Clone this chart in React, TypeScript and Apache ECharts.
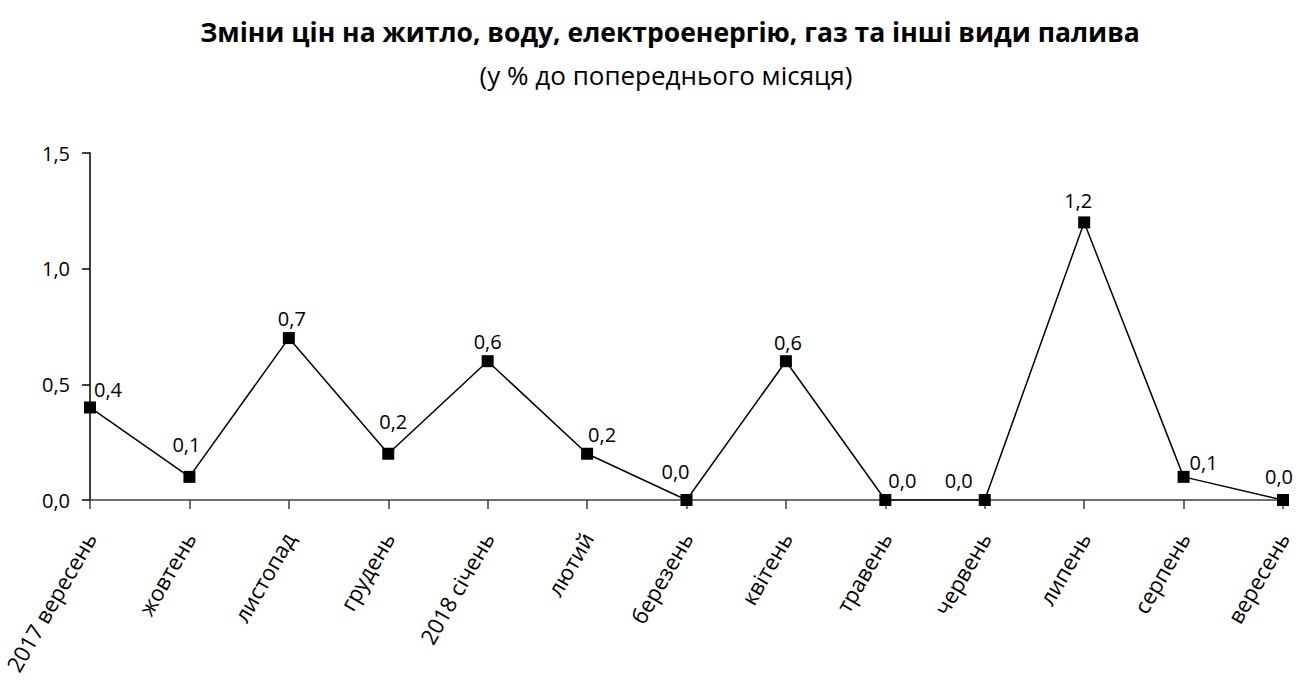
import React, { useEffect, useRef } from "react";
import * as echarts from "echarts";

const titleText = "Зміни цін на житло, воду, електроенергію, газ та інші види палива";
const subtitleText = "(у % до попереднього місяця)";
const categories = [
  "2017 вересень", "жовтень", "листопад", "грудень", "2018 січень", "лютий",
  "березень", "квітень", "травень", "червень", "липень", "серпень", "вересень",
];
const values = [0.4, 0.1, 0.7, 0.2, 0.6, 0.2, 0.0, 0.6, 0.0, 0.0, 1.2, 0.1, 0.0];
const yTicks = { min: 0, max: 1.5, interval: 0.5 };
// label placement offsets (style), per point
const labelOffsets: [number, number][] = [
  [18, 3], [-3, -11], [3, 1], [5, -11], [0, 1], [15, 2], [-11, -8],
  [2, 2], [17, 1], [-26, 1], [-6, -1], [20, 7], [-4, -3],
];

const FONT = "'Open Sans', 'Noto Sans', sans-serif";
const fmt = (v: number) => v.toFixed(1).replace(".", ",");

export default function App() {
  const ref = useRef<HTMLDivElement>(null);
  useEffect(() => {
    if (!ref.current) return;
    const chart = echarts.init(ref.current, null, { renderer: "svg" });
    chart.setOption({
      animation: false,
      backgroundColor: "#fff",
      title: [
        {
          text: titleText,
          left: 665,
          textAlign: "center",
          top: 13,
          textStyle: { fontFamily: FONT, fontSize: 26.5, fontWeight: "bold", color: "#000" },
        },
        {
          text: subtitleText,
          left: 661,
          textAlign: "center",
          top: 57,
          textStyle: { fontFamily: FONT, fontSize: 26, fontWeight: "normal", color: "#000" },
        },
      ],
      grid: { left: 90, right: 13, top: 153, bottom: 182, containLabel: false },
      xAxis: {
        type: "category",
        data: categories,
        boundaryGap: false,
        axisLine: { lineStyle: { color: "#404040", width: 1.5 } },
        axisTick: { alignWithLabel: true, length: 9, lineStyle: { color: "#404040", width: 1.5 } },
        axisLabel: {
          rotate: 60,
          margin: 34,
          interval: 0,
          fontFamily: FONT,
          fontSize: 22,
          color: "#000",
        },
      },
      yAxis: {
        type: "value",
        min: yTicks.min,
        max: yTicks.max,
        interval: yTicks.interval,
        splitLine: { show: false },
        axisLine: { show: true, lineStyle: { color: "#000", width: 1.5 } },
        axisTick: { show: true, length: 8, lineStyle: { color: "#000", width: 1.5 } },
        axisLabel: {
          formatter: (v: number) => fmt(v),
          margin: 20,
          fontFamily: FONT,
          fontSize: 20,
          color: "#000",
        },
      },
      series: [
        {
          type: "line",
          data: values.map((v, i) => ({
            value: v,
            label: { offset: labelOffsets[i] },
          })),
          symbol: "rect",
          symbolSize: 12,
          itemStyle: { color: "#000" },
          lineStyle: { color: "#000", width: 1.5 },
          label: {
            show: true,
            position: "top",
            formatter: (p: any) => fmt(p.value),
            fontFamily: FONT,
            fontSize: 20,
            color: "#000",
          },
        },
      ],
    });
    return () => chart.dispose();
  }, []);
  return (
    <div
      ref={ref}
      style={{ position: "absolute", left: 0, top: 0, width: 1296, height: 682 }}
    />
  );
}
